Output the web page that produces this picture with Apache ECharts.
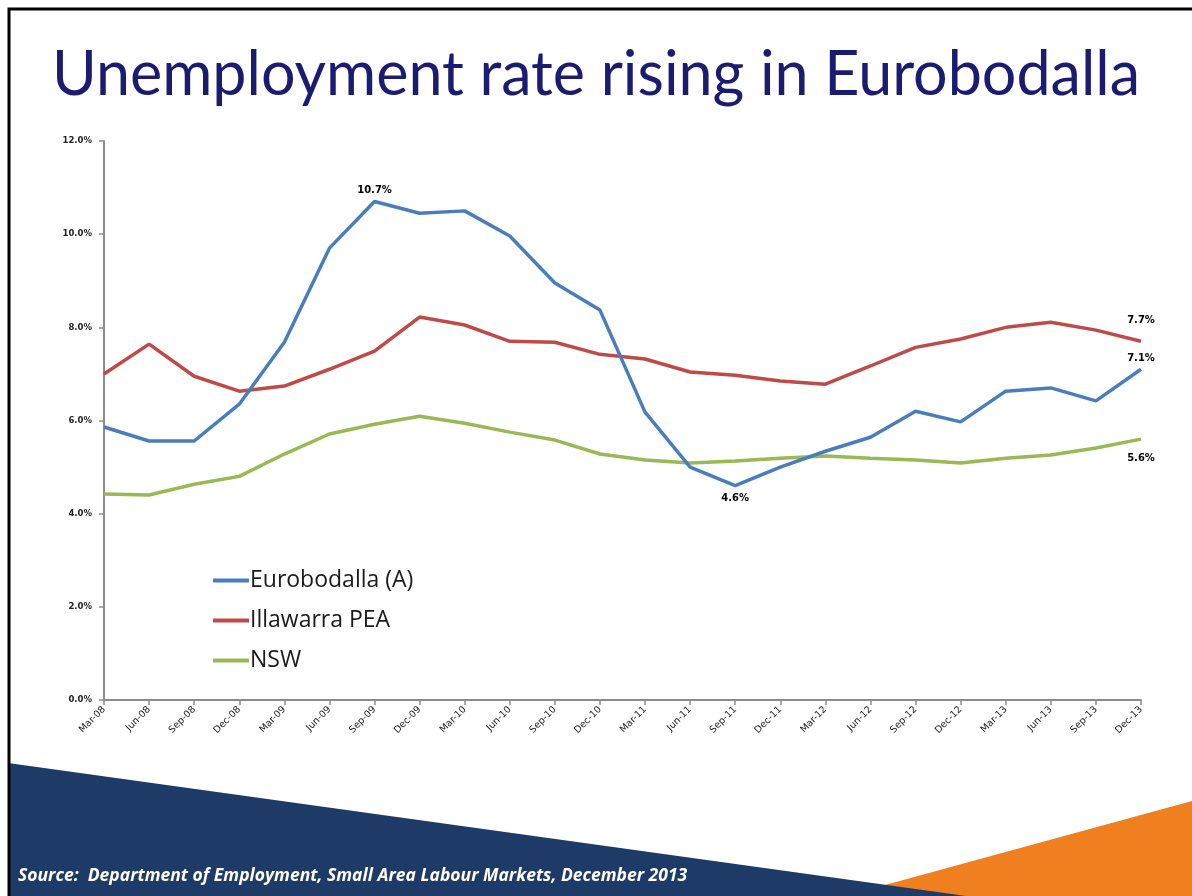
<!DOCTYPE html>
<html>
<head>
<meta charset="utf-8">
<title>Unemployment rate rising in Eurobodalla</title>
<script src="https://cdn.jsdelivr.net/npm/echarts@6/dist/echarts.min.js"></script>
<style>
  html, body { margin: 0; padding: 0; background: #ffffff; }
  #chart { width: 1192px; height: 896px; }
</style>
</head>
<body>
<div id="chart"></div>
<script>
// Quarterly labels, March 2008 to December 2013
const quarters = [
  'Mar-08', 'Jun-08', 'Sep-08', 'Dec-08',
  'Mar-09', 'Jun-09', 'Sep-09', 'Dec-09',
  'Mar-10', 'Jun-10', 'Sep-10', 'Dec-10',
  'Mar-11', 'Jun-11', 'Sep-11', 'Dec-11',
  'Mar-12', 'Jun-12', 'Sep-12', 'Dec-12',
  'Mar-13', 'Jun-13', 'Sep-13', 'Dec-13'
];

// Unemployment rate, per cent
const eurobodalla = [
  5.86, 5.56, 5.56, 6.35,
  7.68, 9.70, 10.7, 10.45,
  10.5, 9.96, 8.95, 8.37,
  6.18, 5.0, 4.6, 5.0,
  5.34, 5.64, 6.2, 5.97,
  6.63, 6.7, 6.42, 7.1
];
const illawarra = [
  7.0, 7.64, 6.95, 6.63,
  6.74, 7.1, 7.49, 8.22,
  8.05, 7.7, 7.68, 7.42,
  7.32, 7.04, 6.97, 6.85,
  6.78, 7.17, 7.57, 7.75,
  8.0, 8.11, 7.94, 7.7
];
const nsw = [
  4.42, 4.4, 4.63, 4.8,
  5.28, 5.71, 5.92, 6.09,
  5.94, 5.75, 5.58, 5.28,
  5.15, 5.09, 5.13, 5.19,
  5.24, 5.19, 5.15, 5.09,
  5.19, 5.26, 5.41, 5.6
];

const seriesNames = ['Eurobodalla (A)', 'Illawarra PEA', 'NSW'];
const yTicks = [0, 2, 4, 6, 8, 10, 12];

// Points that carry a value label
const labelledEuro = [6, 14, 23];
const labelledIllawarra = [23];
const labelledNsw = [23];

const labelFont = {
  fontFamily: 'DejaVu Sans',
  fontSize: 10,
  fontWeight: 'bold',
  color: '#000000'
};

function withLabels(values, picks, positionFor) {
  return values.map(function (v, i) {
    if (picks.indexOf(i) === -1) return v;
    return {
      value: v,
      label: Object.assign({
        show: true,
        formatter: function (p) { return p.value.toFixed(1) + '%'; }
      }, labelFont, positionFor(i))
    };
  });
}

function lineSeries(name, values, color, picks, positionFor, z) {
  return {
    name: name,
    type: 'line',
    data: withLabels(values, picks, positionFor),
    symbol: 'circle',
    symbolSize: 0,
    showSymbol: true,
    lineStyle: { color: color, width: 3.5 },
    itemStyle: { color: color },
    label: { show: false },
    z: z
  };
}

const chart = echarts.init(document.getElementById('chart'), null, { renderer: 'canvas' });

const option = {
  backgroundColor: '#ffffff',
  animation: false,
  title: {
    text: 'Unemployment rate rising in Eurobodalla',
    left: 'center',
    top: 40,
    textStyle: {
      fontFamily: 'Lato',
      fontSize: 61,
      fontWeight: 'normal',
      color: '#1b1b72'
    }
  },
  legend: {
    orient: 'vertical',
    left: 208,
    top: 564,
    itemGap: 17,
    itemWidth: 36,
    itemHeight: 4,
    icon: 'rect',
    data: seriesNames,
    textStyle: {
      fontFamily: 'Open Sans',
      fontSize: 23,
      color: '#1a1a1a',
      padding: [0, 0, 0, -4]
    }
  },
  grid: {
    left: 104,
    right: 51,
    top: 141,
    bottom: 196,
    containLabel: false
  },
  xAxis: {
    type: 'category',
    data: quarters,
    boundaryGap: false,
    axisLine: { lineStyle: { color: '#8c8c8c', width: 2 } },
    axisTick: { show: true, length: 5, lineStyle: { color: '#8c8c8c', width: 1.5 } },
    axisLabel: {
      rotate: 45,
      interval: 0,
      margin: 8,
      fontFamily: 'DejaVu Sans',
      fontSize: 9.5,
      color: '#222222'
    },
    splitLine: { show: false }
  },
  yAxis: {
    type: 'value',
    min: yTicks[0],
    max: yTicks[yTicks.length - 1],
    interval: 2,
    axisLine: { show: true, lineStyle: { color: '#8c8c8c', width: 2 } },
    axisTick: { show: true, length: 5, lineStyle: { color: '#8c8c8c', width: 1.5 } },
    axisLabel: {
      margin: 12,
      fontFamily: 'DejaVu Sans',
      fontSize: 8.5,
      fontWeight: 'bold',
      color: '#222222',
      formatter: function (v) { return v.toFixed(1) + '%'; }
    },
    splitLine: { show: false }
  },
  series: [
    lineSeries(seriesNames[0], eurobodalla, '#4a7ebb', labelledEuro, function (i) {
      return i === 14 ? { position: 'bottom', distance: 8 } : { position: 'top', distance: 6 };
    }, 3),
    lineSeries(seriesNames[1], illawarra, '#be4b48', labelledIllawarra, function () {
      return { position: 'top', distance: 16 };
    }, 2),
    lineSeries(seriesNames[2], nsw, '#98b954', labelledNsw, function () {
      return { position: 'bottom', distance: 14 };
    }, 1)
  ],
  graphic: [
    {
      type: 'polygon',
      z: -10,
      shape: { points: [[885, 885], [1192, 801], [1192, 896], [885, 896]] },
      style: { fill: '#f0801f' }
    },
    {
      type: 'polygon',
      z: -9,
      shape: { points: [[8, 763], [966, 896], [8, 896]] },
      style: { fill: '#1e3a66' }
    },
    {
      type: 'text',
      left: 18,
      top: 867,
      z: 10,
      style: {
        text: 'Source:  Department of Employment, Small Area Labour Markets, December 2013',
        fontFamily: 'Open Sans',
        fontSize: 17.5,
        fontWeight: 'bold',
        fontStyle: 'italic',
        fill: '#ffffff'
      }
    },
    {
      type: 'polyline',
      z: 20,
      shape: { points: [[9, 896], [9, 9], [1192, 9]] },
      style: { fill: 'none', stroke: '#000000', lineWidth: 3 }
    }
  ]
};

chart.setOption(option);
</script>
</body>
</html>
